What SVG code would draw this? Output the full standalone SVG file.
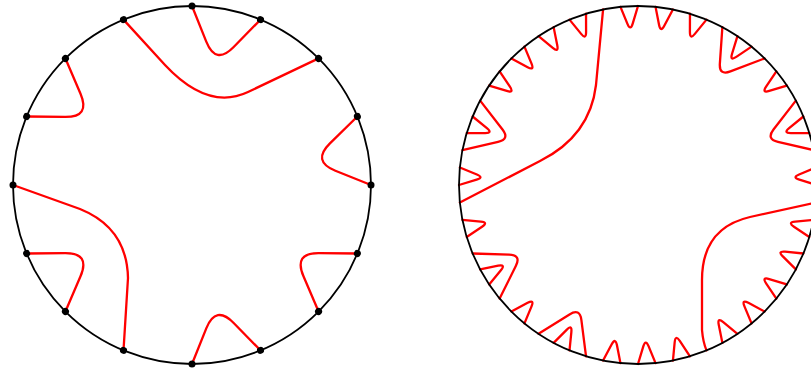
<svg xmlns="http://www.w3.org/2000/svg" xmlns:xlink="http://www.w3.org/1999/xlink" width="811" height="371" viewBox="0 0 811 371">
<style>
.circ{fill:none;stroke:#000;stroke-width:1.8}
.red{fill:none;stroke:#ff0000;stroke-width:2.3;stroke-linejoin:round;stroke-linecap:round}
.dot{fill:#000}
</style>
<defs>
<path id="spike" class="red" d="M-8.78,-178.79 L-2.63,-161.44 Q0,-154 2.63,-161.44 L8.78,-178.79"/>
<path id="outer" class="red" d="M-26.26,-177.06 L-6.57,-146.27 Q0,-136 6.57,-146.27 L26.26,-177.06"/>
<path id="loop" class="red" d="M-34.92,-175.56 L-13.97,-143.42 Q0,-122 13.97,-143.42 L34.92,-175.56"/>
<circle id="dot" class="dot" cx="0" cy="-179" r="3.5"/>
</defs>
<g id="left-diagram">
<g id="left-curves" transform="translate(192,185)">
<use xlink:href="#loop" transform="rotate(11.25)"/>
<use xlink:href="#loop" transform="rotate(78.75)"/>
<use xlink:href="#loop" transform="rotate(123.75)"/>
<use xlink:href="#loop" transform="rotate(168.75)"/>
<use xlink:href="#loop" transform="rotate(236.25)"/>
<use xlink:href="#loop" transform="rotate(303.75)"/>
</g>
<path class="red" d="M123.5,19.6 L165,65 Q208,111 248,92 L318.6,58.4"/>
<path class="red" d="M13,185 L80,209 Q127,228 128,278 L123.5,350.4"/>
<circle class="circ" cx="192" cy="185" r="179"/>
<g id="left-dots" transform="translate(192,185)">
<use xlink:href="#dot"/>
<use xlink:href="#dot" transform="rotate(22.5)"/>
<use xlink:href="#dot" transform="rotate(45)"/>
<use xlink:href="#dot" transform="rotate(67.5)"/>
<use xlink:href="#dot" transform="rotate(90)"/>
<use xlink:href="#dot" transform="rotate(112.5)"/>
<use xlink:href="#dot" transform="rotate(135)"/>
<use xlink:href="#dot" transform="rotate(157.5)"/>
<use xlink:href="#dot" transform="rotate(180)"/>
<use xlink:href="#dot" transform="rotate(202.5)"/>
<use xlink:href="#dot" transform="rotate(225)"/>
<use xlink:href="#dot" transform="rotate(247.5)"/>
<use xlink:href="#dot" transform="rotate(270)"/>
<use xlink:href="#dot" transform="rotate(292.5)"/>
<use xlink:href="#dot" transform="rotate(315)"/>
<use xlink:href="#dot" transform="rotate(337.5)"/>
</g>
</g>
<g id="right-diagram">
<g id="right-spikes" transform="translate(638,185)">
<use xlink:href="#spike" transform="rotate(-2.8125)"/>
<use xlink:href="#spike" transform="rotate(8.4375)"/>
<use xlink:href="#spike" transform="rotate(19.6875)"/>
<use xlink:href="#spike" transform="rotate(36.5625)"/>
<use xlink:href="#spike" transform="rotate(53.4375)"/>
<use xlink:href="#spike" transform="rotate(70.3125)"/>
<use xlink:href="#spike" transform="rotate(87.1875)"/>
<use xlink:href="#spike" transform="rotate(104.0625)"/>
<use xlink:href="#spike" transform="rotate(115.3125)"/>
<use xlink:href="#spike" transform="rotate(126.5625)"/>
<use xlink:href="#spike" transform="rotate(137.8125)"/>
<use xlink:href="#spike" transform="rotate(149.0625)"/>
<use xlink:href="#spike" transform="rotate(165.9375)"/>
<use xlink:href="#spike" transform="rotate(177.1875)"/>
<use xlink:href="#spike" transform="rotate(188.4375)"/>
<use xlink:href="#spike" transform="rotate(205.3125)"/>
<use xlink:href="#spike" transform="rotate(222.1875)"/>
<use xlink:href="#spike" transform="rotate(239.0625)"/>
<use xlink:href="#spike" transform="rotate(255.9375)"/>
<use xlink:href="#spike" transform="rotate(272.8125)"/>
<use xlink:href="#spike" transform="rotate(289.6875)"/>
<use xlink:href="#spike" transform="rotate(306.5625)"/>
<use xlink:href="#spike" transform="rotate(317.8125)"/>
<use xlink:href="#spike" transform="rotate(329.0625)"/>
<use xlink:href="#spike" transform="rotate(340.3125)"/>
<use xlink:href="#outer" transform="rotate(36.5625)"/>
<use xlink:href="#outer" transform="rotate(70.3125)"/>
<use xlink:href="#outer" transform="rotate(205.3125)"/>
<use xlink:href="#outer" transform="rotate(239.0625)"/>
<use xlink:href="#outer" transform="rotate(289.6875)"/>
</g>
<path class="red" d="M603.08,9.44 L596,85 Q590,136 540,161 L459.86,202.55"/>
<path class="red" d="M816.14,202.55 L750,217 Q702,228 702,280 L702,330 Q703,342 706.5,350.4"/>
<circle class="circ" cx="638" cy="185" r="179"/>
</g>
</svg>
